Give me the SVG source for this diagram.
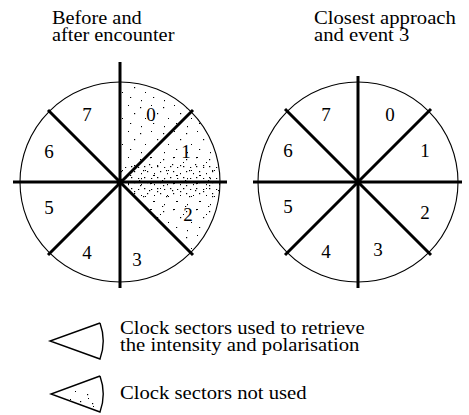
<svg xmlns="http://www.w3.org/2000/svg" width="469" height="415" viewBox="0 0 469 415">
<style>
  .t { font-family: "Liberation Serif", "Times New Roman", serif; font-size: 18px; fill: #000; }
  .d { font-family: "Liberation Serif", "Times New Roman", serif; font-size: 19px; fill: #000; text-anchor: middle; }
  .rim { fill: none; stroke: #000; stroke-width: 1.1; }
  .spoke { stroke: #000; stroke-width: 3; stroke-linecap: butt; }
  .sec { fill: none; stroke: #000; stroke-width: 1.4; stroke-linejoin: miter; }
</style>
<defs>
  <pattern id="sparse" width="23" height="26" patternUnits="userSpaceOnUse">
    <rect x="2" y="3" width="1.2" height="1.2" fill="#000"/>
    <rect x="13" y="1" width="1" height="1" fill="#000"/>
    <rect x="19" y="9" width="1.2" height="1.2" fill="#000"/>
    <rect x="7" y="14" width="1" height="1" fill="#000"/>
    <rect x="15" y="19" width="1.2" height="1" fill="#000"/>
    <rect x="3" y="22" width="1" height="1.2" fill="#000"/>
  </pattern>
  <pattern id="dense" width="13" height="11" patternUnits="userSpaceOnUse">
    <rect x="1" y="1" width="1.3" height="1.2" fill="#000"/>
    <rect x="8" y="2" width="1.2" height="1" fill="#000"/>
    <rect x="4" y="6" width="1.2" height="1.2" fill="#000"/>
    <rect x="11" y="8" width="1" height="1.2" fill="#000"/>
  </pattern>
  <clipPath id="secClip">
    <path d="M120,182 L120,82 A100,100 0 0,1 190.7,252.7 Z"/>
  </clipPath>
</defs>

<g id="title-left">
  <g transform="translate(52,24) scale(1.13,1)"><text class="t" x="0" y="0">Before and</text></g>
  <g transform="translate(52,41) scale(1.13,1)"><text class="t" x="0" y="0">after encounter</text></g>
</g>
<g id="title-right">
  <g transform="translate(314,24) scale(1.15,1)"><text class="t" x="0" y="0">Closest approach</text></g>
  <g transform="translate(314,41) scale(1.15,1)"><text class="t" x="0" y="0">and event 3</text></g>
</g>

<g id="clock-left">
  <circle class="rim" cx="120" cy="182" r="100" fill="#fff"/>
  <g clip-path="url(#secClip)">
    <rect x="120" y="82" width="101" height="172" fill="url(#sparse)"/>
    <rect x="120" y="166" width="101" height="30" fill="url(#dense)"/>
    <rect x="130" y="150" width="90" height="60" fill="url(#sparse)" transform="translate(9,5)"/>
  </g>
  <line class="spoke" x1="13" y1="182" x2="227" y2="182"/>
  <line class="spoke" x1="120" y1="62" x2="120" y2="288"/>
  <line class="spoke" x1="48" y1="110" x2="193" y2="255"/>
  <line class="spoke" x1="48" y1="255" x2="193" y2="110"/>
  <circle cx="120" cy="182" r="3.5" fill="#000"/>
  <text class="d" x="87" y="121">7</text>
  <text class="d" x="151" y="121">0</text>
  <text class="d" x="49" y="158">6</text>
  <text class="d" x="186" y="158">1</text>
  <text class="d" x="49" y="214">5</text>
  <text class="d" x="188" y="221">2</text>
  <text class="d" x="87" y="259">4</text>
  <text class="d" x="137" y="266">3</text>
</g>

<g id="clock-right">
  <circle class="rim" cx="358" cy="182" r="100" fill="#fff"/>
  <line class="spoke" x1="253" y1="182" x2="462" y2="182"/>
  <line class="spoke" x1="358" y1="76" x2="358" y2="288"/>
  <line class="spoke" x1="285" y1="109" x2="431" y2="255"/>
  <line class="spoke" x1="285" y1="255" x2="431" y2="109"/>
  <circle cx="358" cy="182" r="3.5" fill="#000"/>
  <text class="d" x="326" y="121">7</text>
  <text class="d" x="390" y="121">0</text>
  <text class="d" x="288" y="157">6</text>
  <text class="d" x="425" y="157">1</text>
  <text class="d" x="288" y="213">5</text>
  <text class="d" x="425" y="219">2</text>
  <text class="d" x="326" y="258">4</text>
  <text class="d" x="378" y="256">3</text>
</g>

<g id="legend-used">
  <path class="sec" d="M100,323 L50,341 L100,359 A53,53 0 0,0 100,323"/>
  <g transform="translate(120,334) scale(1.15,1)"><text class="t" x="0" y="0">Clock sectors used to retrieve</text></g>
  <g transform="translate(120,351) scale(1.15,1)"><text class="t" x="0" y="0">the intensity and polarisation</text></g>
</g>

<g id="legend-unused">
  <path class="sec" d="M100,376 L51,394 L100,412 A53,53 0 0,0 100,376"/>
  <g fill="#000">
    <rect x="75" y="391" width="1" height="1"/>
    <rect x="87" y="394" width="1.2" height="1.2"/>
    <rect x="88" y="398" width="1" height="1"/>
    <rect x="80" y="401" width="1.2" height="1.2"/>
    <rect x="92" y="403" width="1.2" height="1.2"/>
    <rect x="93" y="406" width="1" height="1"/>
    <rect x="70" y="399" width="1" height="1"/>
  </g>
  <g transform="translate(120,399) scale(1.15,1)"><text class="t" x="0" y="0">Clock sectors not used</text></g>
</g>
</svg>
